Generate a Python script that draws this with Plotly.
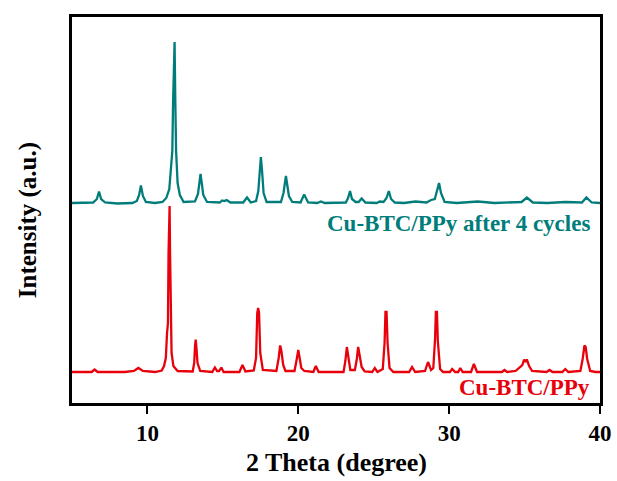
import plotly.graph_objects as go

# Cu-BTC/PPy after 4 cycles (teal), intensity in arbitrary units
theta_cycled = [5.0, 6.4, 6.65, 6.79, 6.93, 7.2, 8.0, 9.0, 9.3, 9.45, 9.57, 9.7, 9.9, 10.5, 11.0,
                11.25, 11.45, 11.58, 11.65, 11.7, 11.75, 11.8, 11.85, 11.9, 12.0, 12.15, 12.4,
                13.15, 13.35, 13.45, 13.52, 13.6, 13.7, 13.95, 14.8, 14.95, 15.1, 15.25, 15.5,
                16.35, 16.6, 16.85, 17.2, 17.35, 17.45, 17.52, 17.6, 17.7, 17.9, 18.85, 19.02,
                19.12, 19.18, 19.25, 19.38, 19.6, 20.15, 20.39, 20.65, 21.25, 21.5, 21.75, 23.15,
                23.3, 23.43, 23.56, 23.8, 24.0, 24.2, 24.45, 25.2, 25.4, 25.65, 25.85, 26.0, 26.15,
                26.4, 27.0, 27.76, 28.5, 28.8, 29.05, 29.2, 29.33, 29.46, 29.7, 30.5, 31.9, 33.0,
                33.9, 34.8, 35.15, 35.55, 36.5, 37.7, 38.8, 39.1, 39.45, 40.0]
int_cycled = [200, 200.5, 204, 211.5, 204, 200.5, 199.5, 200, 202, 208, 217.5, 207, 201, 200, 201,
              205, 214, 240, 252, 300, 361, 361, 300, 252, 220, 208, 201,
              201.5, 209, 222, 229, 220, 208, 201, 200.5, 202.5, 202, 203, 200.5,
              200.5, 205.5, 200.5, 202, 212, 235, 246, 232, 210, 201, 201, 210,
              224, 227, 220, 207, 201, 200.5, 208.5, 200.5, 200, 201.5, 200, 200.5,
              205, 212, 204, 201, 201, 204.5, 200.5, 200, 201.5, 201, 205, 212, 204,
              200.5, 200, 201.5, 200.5, 203, 204, 212, 220, 210, 201, 200, 201.5, 200,
              200.5, 201, 205.5, 200.5, 200, 201, 200.5, 205.5, 200.5, 200]

# Cu-BTC/PPy (red)
theta_fresh = [5.0, 6.3, 6.5, 6.7, 8.5, 9.1, 9.4, 9.7, 10.5, 10.95, 11.1, 11.22, 11.3, 11.36, 11.4,
               11.42, 11.47, 11.5, 11.54, 11.6, 11.72, 12.0, 13.0, 13.1, 13.16, 13.2, 13.25, 13.32,
               13.5, 14.3, 14.47, 14.62, 14.75, 14.9, 15.05, 16.1, 16.3, 16.5, 17.05, 17.2, 17.28,
               17.34, 17.4, 17.48, 17.65, 18.55, 18.7, 18.8, 18.88, 19.0, 19.15, 19.75, 19.9, 20.0,
               20.08, 20.2, 20.4, 21.0, 21.16, 21.35, 23.0, 23.12, 23.22, 23.3, 23.45, 23.75, 23.88,
               23.97, 24.05, 24.2, 24.4, 24.9, 25.07, 25.25, 25.6, 25.72, 25.78, 25.85, 25.92, 26.05,
               26.3, 27.35, 27.54, 27.75, 28.4, 28.6, 28.8, 28.95, 29.07, 29.12, 29.19, 29.25, 29.4,
               29.6, 30.05, 30.2, 30.4, 30.6, 30.74, 30.9, 31.45, 31.64, 31.85, 33.5, 33.67, 33.85,
               34.4, 34.6, 34.85, 34.97, 35.05, 35.15, 35.3, 35.5, 36.45, 36.66, 36.85, 37.5, 37.7,
               37.9, 38.7, 38.85, 38.97, 39.05, 39.15, 39.35, 39.7, 40.0]
int_fresh = [31, 31, 33.5, 31, 31, 32, 35, 32, 31, 32.5, 37, 45, 70, 80, 150,
             197, 197, 150, 100, 50, 37, 32, 31.5, 40, 58, 63.5, 55, 40,
             32, 31, 35.5, 32, 32, 35.5, 31, 31, 38, 31.5, 32.5, 45, 90,
             95, 90, 50, 33, 32, 45, 57.5, 52, 38, 32, 32, 44, 53,
             46, 35, 32, 31, 37, 31, 31, 42, 56, 48, 33, 33, 44,
             56, 48, 36, 31.5, 31, 35, 31, 34, 60, 91, 91, 60, 35,
             31, 31, 36, 31, 32, 41, 33, 35, 65, 91, 91, 62, 34,
             31, 31, 34, 31, 31, 35, 31, 31, 39, 31, 31, 33, 31,
             32, 34.5, 38, 43.5, 41, 43.5, 37, 32, 31, 33, 31, 31, 34,
             31, 32, 44, 57.5, 56, 44, 32, 31, 31]

x_ticks = [10, 20, 30, 40]
label_cycled = "Cu-BTC/PPy after 4 cycles"
label_fresh = "Cu-BTC/PPy"
x_title = "2 Theta (degree)"
y_title = "Intensity (a.u.)"

TEAL = "rgb(0,125,122)"
RED = "rgb(232,0,10)"
FONT = "Liberation Serif"

fig = go.Figure()
fig.add_trace(go.Scatter(x=theta_cycled, y=int_cycled, mode="lines",
                         line=dict(color=TEAL, width=2.3), showlegend=False))
fig.add_trace(go.Scatter(x=theta_fresh, y=int_fresh, mode="lines",
                         line=dict(color=RED, width=2.3), showlegend=False))

fig.add_annotation(x=39.45, y=180, xref="x", yref="y", text=label_cycled, showarrow=False,
                   xanchor="right", yanchor="middle",
                   font=dict(family=FONT, size=23, color=TEAL, weight="bold"))
fig.add_annotation(x=39.5, y=16, xref="x", yref="y", text=label_fresh, showarrow=False,
                   xanchor="right", yanchor="middle",
                   font=dict(family=FONT, size=23, color=RED, weight="bold"))
fig.add_annotation(x=0.5, y=-0.155, xref="paper", yref="paper", text=x_title, showarrow=False,
                   xanchor="center", yanchor="middle",
                   font=dict(family=FONT, size=26, color="black", weight="bold"))
fig.add_annotation(x=-0.083, y=0.474, xref="paper", yref="paper", text=y_title, showarrow=False,
                   xanchor="center", yanchor="middle", textangle=-90,
                   font=dict(family=FONT, size=25, color="black", weight="bold"))

fig.update_layout(
    width=617, height=481,
    margin=dict(l=72, r=17, t=17, b=78),
    paper_bgcolor="white", plot_bgcolor="white",
    font=dict(family=FONT, color="black"),
)
fig.update_xaxes(range=[5, 40], tickvals=x_ticks, ticks="outside", ticklen=8, tickwidth=2,
                 tickcolor="black", showline=True, linecolor="black", linewidth=2.5,
                 mirror=True, showgrid=False, zeroline=False, automargin=False,
                 tickfont=dict(family=FONT, size=23, color="black", weight="bold"))
fig.update_yaxes(range=[0, 386], showticklabels=False, ticks="", showline=True,
                 linecolor="black", linewidth=2.5, mirror=True, showgrid=False, zeroline=False,
                 automargin=False)

fig.write_html("out.html", config={"displayModeBar": False},
               post_script="document.body.style.margin='0';document.body.style.overflow='hidden';")
